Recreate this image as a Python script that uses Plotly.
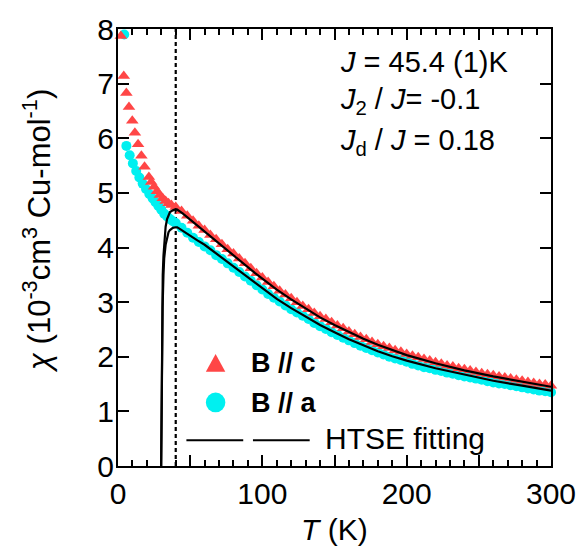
import plotly.graph_objects as go

# ---------------- data ----------------
T_c = [2.0, 4.0, 5.8, 7.6, 9.9, 11.7, 13.9, 16.2, 18.4, 21.4, 23, 25, 27, 29, 31, 33, 35, 37, 40,
       44, 48, 52, 56, 60, 64, 68, 72, 76, 80, 84, 88, 92, 96, 100, 104, 108, 112, 116, 120,
       124, 128, 132, 136, 140, 144, 148, 152, 156, 160, 164, 168, 172, 176, 180, 184, 188, 192,
       196, 200, 204, 208, 212, 216, 220, 224, 228, 232, 236, 240, 244, 248, 252, 256, 260, 264,
       268, 272, 276, 280, 284, 288, 292, 296, 300]
chi_c = [7.87, 7.14, 6.83, 6.57, 6.32, 6.10, 5.89, 5.68, 5.48, 5.29, 5.20, 5.11, 5.03, 4.96, 4.90,
         4.85, 4.81, 4.78, 4.74,
         4.67, 4.58, 4.49, 4.40, 4.32, 4.23, 4.15, 4.06, 3.97, 3.89, 3.80, 3.71, 3.62, 3.53, 3.45,
         3.37, 3.29, 3.21, 3.14, 3.07, 3.00, 2.93, 2.87, 2.80, 2.74, 2.69, 2.63, 2.57, 2.52, 2.46,
         2.41, 2.36, 2.32, 2.27, 2.23, 2.19, 2.16, 2.12, 2.09, 2.05, 2.02, 1.99, 1.96, 1.93, 1.90,
         1.87, 1.84, 1.82, 1.79, 1.77, 1.75, 1.72, 1.70, 1.68, 1.66, 1.64, 1.62, 1.60, 1.58, 1.56,
         1.54, 1.52, 1.50, 1.49, 1.47]

T_a = [4.3, 5.8, 8.1, 10.3, 12.6, 14.8, 17.1, 19.4, 21.7, 24, 26, 28, 30, 32, 34, 36, 38, 40,
       44, 48, 52, 56, 60, 64, 68, 72, 76, 80, 84, 88, 92, 96, 100, 104, 108, 112, 116, 120,
       124, 128, 132, 136, 140, 144, 148, 152, 156, 160, 164, 168, 172, 176, 180, 184, 188, 192,
       196, 200, 204, 208, 212, 216, 220, 224, 228, 232, 236, 240, 244, 248, 252, 256, 260, 264,
       268, 272, 276, 280, 284, 288, 292, 296, 300]
chi_a = [7.90, 5.86, 5.69, 5.54, 5.40, 5.28, 5.17, 5.07, 4.98, 4.90, 4.83, 4.76, 4.69, 4.62, 4.57,
         4.52, 4.48, 4.45,
         4.36, 4.27, 4.18, 4.10, 4.02, 3.95, 3.86, 3.79, 3.71, 3.63, 3.55, 3.47, 3.39, 3.31, 3.23,
         3.15, 3.08, 3.01, 2.94, 2.87, 2.81, 2.75, 2.69, 2.62, 2.56, 2.51, 2.45, 2.40, 2.35, 2.30,
         2.25, 2.20, 2.16, 2.12, 2.08, 2.04, 2.00, 1.97, 1.94, 1.91, 1.87, 1.84, 1.81, 1.79, 1.76,
         1.74, 1.71, 1.69, 1.66, 1.64, 1.62, 1.60, 1.58, 1.55, 1.53, 1.51, 1.50, 1.48, 1.46, 1.44,
         1.42, 1.40, 1.38, 1.37, 1.35]

T_fit_c = [29.9, 30.1, 30.3, 30.6, 31, 31.5, 32, 33, 34, 35, 36, 38, 39, 40, 41, 42, 45, 50, 55,
           60, 65, 70, 75, 80, 85, 90, 95, 100, 110, 120, 130, 140, 150, 160, 170, 180, 190, 200,
           220, 240, 260, 280, 300]
chi_fit_c = [0.0, 1.0, 2.0, 3.0, 3.5, 3.85, 4.1, 4.38, 4.52, 4.60, 4.65, 4.68, 4.695, 4.70, 4.695,
             4.68, 4.62, 4.51, 4.40, 4.29, 4.18, 4.07, 3.96, 3.86, 3.75, 3.64, 3.53, 3.43, 3.23,
             3.05, 2.88, 2.72, 2.58, 2.45, 2.33, 2.22, 2.12, 2.03, 1.88, 1.75, 1.64, 1.54, 1.45]

T_fit_a = [29.9, 30.2, 30.5, 30.9, 31.5, 32, 33, 34, 35, 36, 38, 40, 41, 42, 45, 50, 55, 60, 65,
           70, 75, 80, 85, 90, 95, 100, 110, 120, 130, 140, 150, 160, 170, 180, 190, 200, 220,
           240, 260, 280, 300]
chi_fit_a = [0.0, 1.0, 2.0, 2.9, 3.5, 3.8, 4.05, 4.20, 4.28, 4.32, 4.36, 4.37, 4.37, 4.355, 4.30,
             4.21, 4.13, 4.05, 3.95, 3.85, 3.75, 3.65, 3.55, 3.45, 3.35, 3.25, 3.06, 2.89, 2.73,
             2.58, 2.45, 2.32, 2.21, 2.10, 2.01, 1.93, 1.79, 1.67, 1.56, 1.47, 1.38]

T_mark = 40  # dashed vertical line

x_tickvals = [0, 50, 100, 150, 200, 250, 300]
x_ticktext = ["0", "", "100", "", "200", "", "300"]
y_tickvals = [0, 1, 2, 3, 4, 5, 6, 7, 8]

# ---------------- figure ----------------
FONT = "Liberation Sans, Arial, Helvetica, sans-serif"
RED = "rgb(255,70,70)"
CYAN = "rgb(0,240,240)"

fig = go.Figure()
fig.add_trace(go.Scatter(x=T_a, y=chi_a, mode="markers", cliponaxis=False,
                         marker=dict(symbol="circle", size=10, color=CYAN, line=dict(width=0)),
                         showlegend=False))
fig.add_trace(go.Scatter(x=T_c, y=chi_c, mode="markers", cliponaxis=False,
                         marker=dict(symbol="triangle-up", size=11, color=RED, line=dict(width=0)),
                         showlegend=False))
fig.add_trace(go.Scatter(x=T_fit_c, y=chi_fit_c, mode="lines",
                         line=dict(color="black", width=2.2), showlegend=False))
fig.add_trace(go.Scatter(x=T_fit_a, y=chi_fit_a, mode="lines",
                         line=dict(color="black", width=2.2), showlegend=False))

fig.add_shape(type="line", xref="x", yref="y", x0=T_mark, x1=T_mark, y0=0, y1=8,
              line=dict(color="black", width=2.2, dash="4px,3px"), layer="below")

W, H = 588, 549
L, R, T, B = 118, 25, 24, 83
PW, PH = W - L - R, H - T - B


def px(x):
    return (x - L) / PW


def py(y):
    return (H - B - y) / PH


# legend glyphs
fig.add_shape(type="path", xref="paper", yref="paper",
              path=f"M {px(208.3)} {py(370.7)} L {px(228.3)} {py(370.7)} L {px(218.3)} {py(352.7)} Z",
              fillcolor=RED, line=dict(width=0))
fig.add_shape(type="circle", xref="paper", yref="paper",
              x0=px(208.3), x1=px(228.3), y0=py(411.7), y1=py(391.7),
              fillcolor=CYAN, line=dict(width=0))
fig.add_shape(type="line", xref="paper", yref="paper", x0=px(188.3), x1=px(246.7),
              y0=py(440), y1=py(440), line=dict(color="black", width=2))
fig.add_shape(type="line", xref="paper", yref="paper", x0=px(256.7), x1=px(315),
              y0=py(440), y1=py(440), line=dict(color="black", width=2))

ann_font = dict(family=FONT, size=29, color="black")
anns = [
    dict(x=px(253), y=py(362), text="<b>B</b> <b>// c</b>", xanchor="left", yanchor="middle",
         font=dict(family=FONT, size=27, color="black")),
    dict(x=px(253), y=py(402), text="<b>B</b> <b>// a</b>", xanchor="left", yanchor="middle",
         font=dict(family=FONT, size=27, color="black")),
    dict(x=px(329), y=py(438), text="HTSE fitting", xanchor="left", yanchor="middle",
         font=dict(family=FONT, size=30, color="black")),
    dict(x=px(344), y=py(57), text="<i>J</i> = 45.4 (1)K", xanchor="left", yanchor="middle",
         font=ann_font),
    dict(x=px(344), y=py(97), text="<i>J</i><sub>2</sub> / <i>J</i>= -0.1", xanchor="left",
         yanchor="middle", font=ann_font),
    dict(x=px(344), y=py(138), text="<i>J</i><sub>d</sub> / <i>J</i> = 0.18", xanchor="left",
         yanchor="middle", font=ann_font),
    dict(x=px(340), y=py(530), text="<i>T</i> (K)", xanchor="center", yanchor="middle",
         font=dict(family=FONT, size=30, color="black")),
    dict(x=px(34), y=py(228), text="<i>χ</i> (10<sup>-3</sup>cm<sup>3</sup> Cu-mol<sup>-1</sup>)",
         textangle=-90, xanchor="center", yanchor="middle",
         font=dict(family=FONT, size=31, color="black")),
]
for a in anns:
    a.update(xref="paper", yref="paper", showarrow=False)
fig.update_layout(annotations=anns)

axis_common = dict(showgrid=False, zeroline=False, showline=True, linecolor="black",
                   linewidth=2, mirror="allticks", ticks="inside", ticklen=11, tickwidth=2,
                   tickcolor="black", tickfont=dict(family=FONT, size=30, color="black"),
                   ticklabeloverflow="allow")
fig.update_xaxes(range=[0, 300], tickvals=x_tickvals, ticktext=x_ticktext,
                 minor=dict(dtick=10, ticks="inside", ticklen=6, tickwidth=1.5, tickcolor="black"),
                 **axis_common)
fig.update_yaxes(range=[0, 8], tickvals=y_tickvals, ticklabelstandoff=-4, **axis_common)

fig.update_layout(width=W, height=H, margin=dict(l=L, r=R, t=T, b=B),
                  plot_bgcolor="white", paper_bgcolor="white",
                  font=dict(family=FONT, color="black"))

fig.write_html("out.html")
